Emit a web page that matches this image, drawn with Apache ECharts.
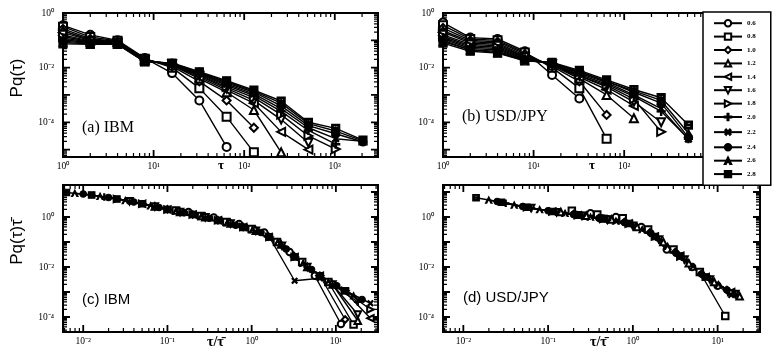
<!DOCTYPE html>
<html>
<head>
<meta charset="utf-8">
<script src="https://cdn.jsdelivr.net/npm/echarts@6/dist/echarts.min.js"></script>
<style>html,body{margin:0;padding:0;background:#fff}#chart{width:778px;height:354px}</style>
</head>
<body>
<div id="chart"></div>
<script>
// all values are log10 of what the axes show (the plots are log-log)
const qLabels = ['0.6', '0.8', '1.0', '1.2', '1.4', '1.6', '1.8', '2.0', '2.2', '2.4', '2.6', '2.8']

// tau = 1, 2, 4, ... 2048
const logTau = [0, 0.301, 0.602, 0.903, 1.204, 1.505, 1.806, 2.107, 2.408, 2.709, 3.010, 3.311]

// panel (a) IBM, log10 Pq(tau)
const ibmLogP = [
  [-0.45, -0.8, -1.0, -1.65, -2.2, -3.2, -4.9],
  [-0.5, -0.88, -1.02, -1.67, -2.0, -2.75, -3.8, -5.1],
  [-0.58, -0.94, -1.04, -1.69, -1.95, -2.5, -3.2, -4.2],
  [-0.65, -0.98, -1.06, -1.7, -1.92, -2.4, -2.9, -3.55, -5.1],
  [-0.72, -1.0, -1.08, -1.72, -1.9, -2.35, -2.82, -3.3, -4.35, -5.0],
  [-0.8, -1.03, -1.09, -1.73, -1.88, -2.3, -2.76, -3.2, -3.9, -4.75],
  [-0.86, -1.05, -1.1, -1.74, -1.87, -2.27, -2.7, -3.1, -3.72, -4.5, -4.98],
  [-0.92, -1.07, -1.11, -1.75, -1.86, -2.24, -2.65, -3.02, -3.6, -4.3, -4.8],
  [-0.98, -1.09, -1.12, -1.76, -1.85, -2.21, -2.6, -2.96, -3.5, -4.2, -4.6, -4.7],
  [-1.03, -1.11, -1.13, -1.77, -1.84, -2.19, -2.56, -2.9, -3.4, -4.12, -4.42, -4.72],
  [-1.08, -1.13, -1.14, -1.78, -1.84, -2.17, -2.52, -2.86, -3.3, -4.05, -4.32, -4.68],
  [-1.13, -1.15, -1.15, -1.79, -1.83, -2.15, -2.48, -2.82, -3.22, -4.0, -4.22, -4.65]
]

// panel (b) USD/JPY, log10 Pq(tau)
const jpyLogP = [
  [-0.35, -0.9, -0.95, -1.4, -2.27, -3.13],
  [-0.45, -0.95, -1.0, -1.45, -2.0, -2.75, -4.6],
  [-0.55, -1.0, -1.05, -1.5, -1.95, -2.5, -3.73],
  [-0.65, -1.05, -1.1, -1.55, -1.92, -2.4, -3.0, -3.85],
  [-0.7, -1.1, -1.15, -1.6, -1.9, -2.35, -2.8, -3.4],
  [-0.8, -1.15, -1.2, -1.62, -1.88, -2.3, -2.7, -3.25, -4.0],
  [-0.85, -1.2, -1.25, -1.65, -1.86, -2.3, -2.65, -3.15, -4.35],
  [-0.9, -1.25, -1.3, -1.68, -1.85, -2.25, -2.6, -3.05, -3.6, -4.6],
  [-0.95, -1.3, -1.35, -1.7, -1.84, -2.2, -2.55, -3.0, -3.5, -4.62],
  [-1.0, -1.35, -1.4, -1.72, -1.83, -2.15, -2.5, -2.9, -3.3, -4.55],
  [-1.05, -1.35, -1.45, -1.74, -1.82, -2.15, -2.5, -2.85, -3.2, -4.4],
  [-1.1, -1.4, -1.47, -1.75, -1.81, -2.1, -2.45, -2.8, -3.1, -4.1]
]

// panel (c) IBM, log10 tau/tau-bar and log10 Pq(tau)*tau-bar
const ibmScaledX = [
  [-0.75, -0.45, -0.15, 0.15, 0.45, 0.75, 1.06],
  [-0.9, -0.6, -0.3, 0.0, 0.3, 0.6, 0.91, 1.21],
  [-1.0, -0.7, -0.4, -0.1, 0.2, 0.5, 0.81, 1.11],
  [-1.15, -0.85, -0.55, -0.25, 0.05, 0.35, 0.66, 0.96, 1.26],
  [-1.3, -1.0, -0.7, -0.4, -0.1, 0.2, 0.51, 0.81, 1.11, 1.41],
  [-1.45, -1.15, -0.85, -0.55, -0.25, 0.05, 0.36, 0.66, 0.96, 1.26],
  [-1.6, -1.3, -1.0, -0.7, -0.4, -0.1, 0.21, 0.51, 0.81, 1.11, 1.41],
  [-1.75, -1.45, -1.15, -0.85, -0.55, -0.25, 0.06, 0.36, 0.66, 0.96, 1.26],
  [-1.9, -1.6, -1.3, -1.0, -0.7, -0.4, -0.09, 0.21, 0.51, 0.81, 1.11, 1.41],
  [-2.0, -1.7, -1.4, -1.1, -0.8, -0.5, -0.19, 0.11, 0.41, 0.71, 1.01, 1.31],
  [-2.1, -1.8, -1.5, -1.2, -0.9, -0.6, -0.29, 0.01, 0.31, 0.61, 0.91, 1.21],
  [-2.2, -1.9, -1.6, -1.3, -1.0, -0.7, -0.39, -0.09, 0.21, 0.51, 0.81, 1.11]
]
const ibmScaledY = [
  [0.2, -0.02, -0.28, -0.62, -1.4, -2.35, -4.28],
  [0.26, 0.04, -0.2, -0.48, -1.0, -1.8, -2.6, -4.3],
  [0.31, 0.1, -0.13, -0.4, -0.78, -1.55, -2.35, -4.1],
  [0.42, 0.2, -0.01, -0.26, -0.55, -1.1, -2.0, -2.7, -4.15],
  [0.53, 0.3, 0.1, -0.13, -0.4, -0.8, -1.6, -2.35, -3.0, -4.05],
  [0.63, 0.42, 0.2, -0.01, -0.26, -0.55, -1.15, -2.0, -2.7, -3.9],
  [0.72, 0.53, 0.3, 0.1, -0.13, -0.4, -0.8, -1.6, -2.35, -2.95, -3.7],
  [0.8, 0.63, 0.42, 0.2, -0.01, -0.26, -0.56, -1.15, -2.0, -2.7, -3.4],
  [0.88, 0.72, 0.53, 0.3, 0.1, -0.13, -0.42, -0.8, -2.55, -2.45, -2.95, -3.45],
  [0.92, 0.78, 0.6, 0.38, 0.17, -0.05, -0.33, -0.62, -1.28, -2.1, -2.75, -3.3],
  [0.95, 0.83, 0.66, 0.45, 0.24, 0.02, -0.23, -0.51, -1.0, -1.85, -2.6, -3.15],
  [0.98, 0.88, 0.72, 0.53, 0.3, 0.1, -0.14, -0.42, -0.8, -1.6, -2.35, -2.95]
]

// panel (d) USD/JPY
const jpyScaledX = [
  [-0.5, -0.2, 0.1, 0.4, 0.7, 1.0],
  [-0.72, -0.42, -0.12, 0.18, 0.48, 0.79, 1.09],
  [-0.7, -0.4, -0.1, 0.2, 0.5, 0.81, 1.11],
  [-0.85, -0.55, -0.25, 0.05, 0.36, 0.66, 0.96, 1.26],
  [-0.95, -0.65, -0.35, -0.05, 0.26, 0.56, 0.86, 1.16],
  [-1.2, -0.9, -0.6, -0.3, 0.0, 0.31, 0.61, 0.91, 1.21],
  [-1.25, -0.95, -0.65, -0.35, -0.05, 0.26, 0.56, 0.86, 1.16],
  [-1.5, -1.2, -0.9, -0.6, -0.3, 0.0, 0.31, 0.61, 0.91, 1.21],
  [-1.55, -1.25, -0.95, -0.65, -0.35, -0.05, 0.26, 0.56, 0.86, 1.16],
  [-1.6, -1.3, -1.0, -0.7, -0.4, -0.1, 0.21, 0.51, 0.81, 1.11],
  [-1.7, -1.4, -1.1, -0.8, -0.5, -0.2, 0.11, 0.41, 0.71, 1.01],
  [-1.85, -1.55, -1.25, -0.95, -0.65, -0.35, -0.04, 0.26, 0.56, 0.86]
]
const jpyScaledY = [
  [0.15, 0.0, -0.4, -1.3, -2.0, -2.75],
  [0.25, 0.1, -0.05, -0.5, -1.3, -2.2, -3.96],
  [0.12, -0.04, -0.2, -0.62, -1.4, -2.28, -2.92],
  [0.2, 0.05, -0.1, -0.4, -1.0, -1.85, -2.6, -3.17],
  [0.22, 0.07, -0.08, -0.26, -0.78, -1.55, -2.4, -3.0],
  [0.36, 0.19, 0.05, -0.11, -0.35, -0.9, -1.7, -2.5, -3.08],
  [0.39, 0.22, 0.07, -0.08, -0.27, -0.78, -1.58, -2.38, -3.0],
  [0.55, 0.35, 0.2, 0.05, -0.12, -0.35, -0.92, -1.72, -2.48, -3.1],
  [0.58, 0.38, 0.22, 0.07, -0.08, -0.28, -0.8, -1.55, -2.42, -3.12],
  [0.62, 0.42, 0.25, 0.1, -0.05, -0.22, -0.64, -1.45, -2.28, -2.92],
  [0.68, 0.48, 0.3, 0.15, 0.0, -0.16, -0.5, -1.17, -2.0, -2.7],
  [0.77, 0.59, 0.39, 0.22, 0.07, -0.08, -0.26, -0.78, -1.56, -2.4]
]

// tick labels
const tauTicks = [0, 1, 2, 3]
const tauTickLabels = ['10⁰', '10¹', '10²', '10³']
const ratioTicks = [-2, -1, 0, 1]
const ratioTickLabels = ['10⁻²', '10⁻¹', '10⁰', '10¹']
const probTicks = [-4, -2, 0]
const probTickLabels = ['10⁻⁴', '10⁻²', '10⁰']

const plusPath = 'path://M4.2,0H5.8V4.2H10V5.8H5.8V10H4.2V5.8H0V4.2H4.2Z'
const caretPath = 'path://M5,0L10,10H8.2L5,3.6L1.8,10H0Z'
const bPath = 'path://M0,0H10V10H0Z M2,2V4.2H8V2Z M2,5.8V8H8V5.8Z'
const markers = [
  ['emptyCircle', 0], ['emptyRect', 0], ['emptyDiamond', 0], ['emptyTriangle', 0],
  ['emptyTriangle', 90], ['emptyTriangle', 180], ['emptyTriangle', -90],
  [plusPath, 0], [plusPath, 45], ['circle', 0], [caretPath, 0], [bPath, 0]
]

const panels = [
  { grid: { left: 63, top: 13, width: 315, height: 144 }, x: [0, 3.477], xt: [tauTicks, tauTickLabels], y: [-5.27, 0] },
  { grid: { left: 443, top: 13, width: 315, height: 144 }, x: [0, 3.477], xt: [tauTicks, tauTickLabels], y: [-5.27, 0] },
  { grid: { left: 63, top: 185, width: 315, height: 147 }, x: [-2.24, 1.5], xt: [ratioTicks, ratioTickLabels], y: [-4.6, 1.28] },
  { grid: { left: 443, top: 185, width: 317, height: 147 }, x: [-2.24, 1.5], xt: [ratioTicks, ratioTickLabels], y: [-4.6, 1.28] },
]

// log10 positions of the decade ticks (major) or the 2..9 ticks (minor)
function logTicks(min, max, major) {
  const out = []
  for (let n = Math.floor(min); n < max; n++) {
    for (let k = 1; k < 10; k++) {
      if ((k === 1) !== major) continue
      const v = n + Math.log10(k)
      if (v > min && v < max) out.push(v)
    }
  }
  return out
}

const tickFont = { fontSize: 9.5, fontFamily: 'Liberation Serif', color: '#000' }

function axisFor(g, range, vals, texts, margin) {
  return {
    type: 'value', gridIndex: g, min: range[0], max: range[1],
    splitLine: { show: false },
    axisLine: { show: false, onZero: false },
    axisTick: { show: false },
    axisLabel: { ...tickFont, margin, customValues: vals, formatter: v => texts[vals.indexOf(Math.round(v))] },
  }
}

// inward frame ticks as short segments on all four sides, in axis units
function tickLines(g, p, major) {
  const lenPx = major ? 7 : 4
  const dy = lenPx * (p.y[1] - p.y[0]) / p.grid.height
  const dx = lenPx * (p.x[1] - p.x[0]) / p.grid.width
  const gap = ['-', '-']
  const data = []
  logTicks(p.x[0], p.x[1], major).forEach(v => {
    data.push([v, p.y[0]], [v, p.y[0] + dy], gap)
    data.push([v, p.y[1]], [v, p.y[1] - dy], gap)
  })
  logTicks(p.y[0], p.y[1], major).forEach(v => {
    data.push([p.x[0], v], [p.x[0] + dx, v], gap)
    data.push([p.x[1], v], [p.x[1] - dx, v], gap)
  })
  return {
    type: 'line', name: qLabels[0], xAxisIndex: g, yAxisIndex: g,
    data, symbol: 'none', connectNulls: false, clip: false, silent: true,
    lineStyle: { color: '#000', width: major ? 1.8 : 1.2 },
  }
}

function seriesFor(g, xs, ys, size) {
  return ys.map((row, i) => ({
    type: 'line',
    name: qLabels[i],
    xAxisIndex: g,
    yAxisIndex: g,
    data: row.map((y, k) => [Array.isArray(xs[i]) ? xs[i][k] : xs[k], y]),
    symbol: markers[i][0],
    symbolRotate: markers[i][1],
    symbolSize: size,
    showAllSymbol: true,
    lineStyle: { color: '#000', width: 1.4 },
    itemStyle: { color: '#000', borderColor: '#000', borderWidth: 1.2 },
  }))
}

const series = [
  ...seriesFor(0, logTau, ibmLogP, 8),
  ...seriesFor(1, logTau, jpyLogP, 8),
  ...seriesFor(2, ibmScaledX, ibmScaledY, 6.5),
  ...seriesFor(3, jpyScaledX, jpyScaledY, 6.5),
  ...panels.map((p, g) => tickLines(g, p, true)),
  ...panels.map((p, g) => tickLines(g, p, false)),
]

function label(text, x, y, font, size, weight) {
  return { type: 'text', x, y, style: { text, fontFamily: font, fontSize: size, fontWeight: weight || 'normal', fill: '#000', textAlign: 'left', textVerticalAlign: 'middle' } }
}

const chart = echarts.init(document.getElementById('chart'))
chart.setOption({
  animation: false,
  grid: panels.map(p => ({ ...p.grid, show: true, borderColor: '#000', borderWidth: 2, backgroundColor: 'transparent' })),
  xAxis: panels.map((p, g) => axisFor(g, p.x, p.xt[0], p.xt[1], 4)),
  yAxis: panels.map((p, g) => axisFor(g, p.y, probTicks, probTickLabels, 9)),
  series,
  legend: {
    orient: 'vertical',
    left: 703, top: 12,
    itemWidth: 28, itemHeight: 8, itemGap: 5,
    padding: [7, 15, 7, 10],
    backgroundColor: '#fff',
    borderColor: '#000', borderWidth: 1.5,
    selectedMode: false,
    textStyle: { fontSize: 7, fontFamily: 'Liberation Serif', fontWeight: 'bold', color: '#000' },
    data: qLabels,
  },
  graphic: [
    label('(a) IBM', 82, 128, 'Liberation Serif', 16),
    label('(b) USD/JPY', 462, 117, 'Liberation Serif', 16),
    label('(c) IBM', 82, 300, 'Liberation Sans', 15),
    label('(d) USD/JPY', 463, 298, 'Liberation Sans', 15),
    label('τ', 218, 166, 'Liberation Serif', 13, 'bold'),
    label('τ', 589, 166, 'Liberation Serif', 13, 'bold'),
    label('τ/τ\u0304', 207, 342, 'Liberation Serif', 14, 'bold'),
    label('τ/τ\u0304', 590, 342, 'Liberation Serif', 14, 'bold'),
    { type: 'text', x: 17, y: 78, rotation: Math.PI / 2, style: { text: 'Pq(τ)', fontFamily: 'Liberation Sans', fontSize: 17, fill: '#000', textAlign: 'center', textVerticalAlign: 'middle' } },
    { type: 'text', x: 17, y: 242, rotation: Math.PI / 2, style: { text: 'Pq(τ)τ\u0304', fontFamily: 'Liberation Sans', fontSize: 17, fill: '#000', textAlign: 'center', textVerticalAlign: 'middle' } },
  ],
})
</script>
</body>
</html>
